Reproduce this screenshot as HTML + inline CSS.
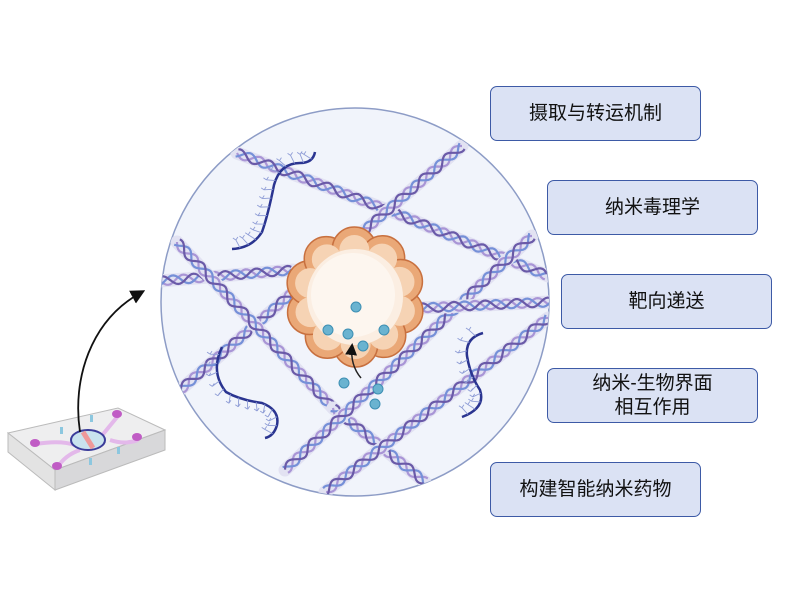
<!DOCTYPE html>
<html><head><meta charset="utf-8"><style>
body{margin:0;width:795px;height:602px;background:#fff;overflow:hidden;position:relative;font-family:"Liberation Sans","Noto Sans CJK SC",sans-serif}
.b{position:absolute;width:211px;height:55px;background:#dbe2f4;border:1px solid #3d5aa6;border-radius:7px;box-sizing:border-box;display:flex;align-items:center;justify-content:center;text-align:center;font-size:19px;color:#111;line-height:24px}
</style></head><body>
<svg id="s" width="795" height="602" style="position:absolute;left:0;top:0">
<defs><clipPath id="c"><circle cx="355" cy="302" r="194"/></clipPath>
<marker id="ah" markerWidth="8" markerHeight="8" refX="6" refY="4" orient="auto"><path d="M0,0L8,4L0,8z" fill="#111"/></marker></defs>
<circle cx="355" cy="302" r="194" fill="#f1f4fb" stroke="#8d9cc6" stroke-width="1.5"/>
<g id="fib" clip-path="url(#c)"></g>
<g id="cell"></g>
<path d="M361,378 Q350,365 352,346" stroke="#222" stroke-width="1.5" fill="none" marker-end="url(#ah)"/>
<g fill="#6ab3d0" stroke="#3d8fb3" stroke-width="1">
<circle cx="356" cy="307" r="5"/><circle cx="328" cy="330" r="5"/><circle cx="348" cy="334" r="5"/><circle cx="384" cy="330" r="5"/><circle cx="363" cy="346" r="5"/>
<circle cx="344" cy="383" r="5"/><circle cx="378" cy="389" r="5"/><circle cx="375" cy="404" r="5"/></g>
<!-- chip -->
<polygon points="8,433 118,408 165,430 55,470" fill="#eeeeef" stroke="#bbb"/>
<polygon points="8,433 55,470 55,490 8,452" fill="#e3e3e3" stroke="#bbb"/>
<polygon points="55,470 165,430 165,450 55,490" fill="#d8d8da" stroke="#bbb"/>
<path d="M36,444 Q60,440 75,445 M57,468 Q65,455 80,450 M118,416 Q108,428 100,438 M138,440 Q125,445 110,440" stroke="#e3b8ea" stroke-width="4" fill="none"/>
<g fill="#c05cc5"><ellipse cx="35" cy="443" rx="5" ry="4"/><ellipse cx="57" cy="466" rx="5" ry="4"/><ellipse cx="117" cy="414" rx="5" ry="4"/><ellipse cx="137" cy="437" rx="5" ry="4"/></g>
<g fill="#8cc7df"><rect x="60" y="427" width="3" height="7"/><rect x="90" y="415" width="3" height="7"/><rect x="117" y="447" width="3" height="7"/><rect x="89" y="458" width="3" height="7"/></g>
<ellipse cx="88" cy="440" rx="17" ry="10" fill="#c9e3ee" stroke="#3b3c9a" stroke-width="2"/>
<path d="M83,432 L93,448" stroke="#e99" stroke-width="5"/>
<path d="M80,432 C72,380 90,320 142,292" stroke="#111" stroke-width="1.8" fill="none" marker-end="url(#ah)"/>
</svg>
<div class="b" style="left:490px;top:86px">摄取与转运机制</div>
<div class="b" style="left:547px;top:180px">纳米毒理学</div>
<div class="b" style="left:561px;top:274px">靶向递送</div>
<div class="b" style="left:547px;top:368px">纳米-生物界面<br>相互作用</div>
<div class="b" style="left:490px;top:462px">构建智能纳米药物</div>
<script>
var NS="http://www.w3.org/2000/svg";
function el(p,t,a){var e=document.createElementNS(NS,t);for(var k in a)e.setAttribute(k,a[k]);p.appendChild(e);return e;}
var fib=document.getElementById('fib');
var L=[[237,153,393,212],[393,212,548,276],[462,146,180,390],[160,281,293,270],[177,242,333,408],[333,408,425,482],[532,236,285,470],[420,308,550,302],[548,318,325,492]];
L.forEach(function(l){
 var dx=l[2]-l[0],dy=l[3]-l[1],len=Math.hypot(dx,dy),ux=dx/len,uy=dy/len,nx=-uy,ny=ux;
 el(fib,'line',{x1:l[0],y1:l[1],x2:l[2],y2:l[3],stroke:'#e2e2f2','stroke-width':13,'stroke-linecap':'round'});
 [[0,'#a995d6'],[2.1,'#7590d8'],[4.2,'#6a5aa8']].forEach(function(o){
  var d='';for(var s=0;s<=len;s+=2){var w=4.5*Math.sin(s/5+o[0]);var x=l[0]+ux*s+nx*w,y=l[1]+uy*s+ny*w;d+=(s?'L':'M')+x.toFixed(1)+','+y.toFixed(1);}
  el(fib,'path',{d:d,stroke:o[1],'stroke-width':2.2,fill:'none'});
 });
});
var sq=['M315,152 Q313,163 300,163 Q280,163 274,185 Q268,215 262,232 Q252,248 232,249','M222,347 Q210,372 226,392 Q240,400 262,403 Q280,410 277,425 Q274,436 265,438','M483,333 Q465,338 467,356 Q470,375 480,390 Q486,408 462,417'];
sq.forEach(function(d){
 var p=el(fib,'path',{d:d,stroke:'#2a3490','stroke-width':2.5,fill:'none'});
 var n=p.getTotalLength();
 for(var t=8;t<n;t+=9){var a=p.getPointAtLength(t),b=p.getPointAtLength(t+1);var ang=Math.atan2(b.y-a.y,b.x-a.x)+((t/9)%2?1.3:-1.3);
  var x2=a.x+9*Math.cos(ang),y2=a.y+9*Math.sin(ang);
  el(fib,'path',{d:'M'+a.x+','+a.y+'L'+x2+','+y2+'m0,0 l-3,-2 m3,2 l2,-3',stroke:'#8f9dd6','stroke-width':0.9,fill:'none'});}
});
var cell=document.getElementById('cell');var cx=355,cy=297;
for(var i=0;i<10;i++){var a=i*Math.PI/5+0.3;el(cell,'circle',{cx:cx+48*Math.cos(a),cy:cy+48*Math.sin(a),r:22,fill:'#eaa877',stroke:'#c8703f','stroke-width':1.5});}
el(cell,'circle',{cx:cx,cy:cy,r:52,fill:'#eaa877'});
for(var i=0;i<10;i++){var a=i*Math.PI/5+0.3;el(cell,'circle',{cx:cx+47*Math.cos(a),cy:cy+47*Math.sin(a),r:15,fill:'#f6d3b4'});}
el(cell,'circle',{cx:cx,cy:cy,r:48,fill:'#fbeee2'});
el(cell,'circle',{cx:cx-2,cy:cy-2,r:42,fill:'#fdf6ef'});
</script>
</body></html>
